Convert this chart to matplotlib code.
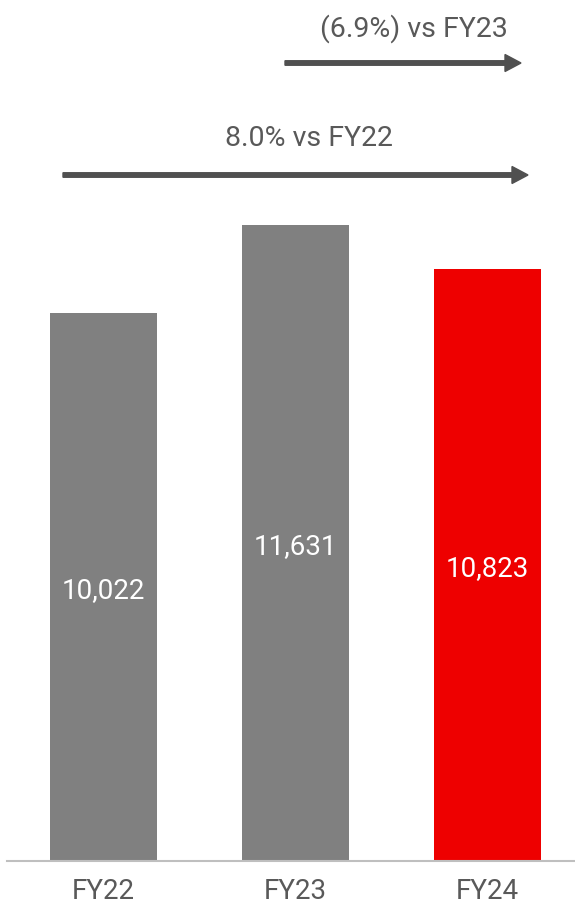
import matplotlib.pyplot as plt
from matplotlib.patches import FancyArrow

years = ['FY22', 'FY23', 'FY24']
values = [10022, 11631, 10823]
colors = ['#808080', '#808080', '#EE0000']
labels = ['10,022', '11,631', '10,823']
notes = ['(6.9%) vs FY23', '8.0% vs FY22']

fonts = ['Roboto', 'DejaVu Sans']

fig = plt.figure(figsize=(5.75, 9.06), dpi=100)
# axes from baseline (861px) to top, x from 7px to 575px
ax = fig.add_axes([7 / 575, 1 - 861 / 906, 568 / 575, 861 / 906])
x = list(range(len(years)))
ax.bar(x, values, width=0.557, color=colors, zorder=2)
ax.set_xlim(-0.503, 2.456)
ax.set_ylim(0, 15750)

for xi, v, lab in zip(x, values, labels):
    ax.text(xi, v / 2, lab, ha='center', va='center_baseline', color='white',
            fontsize=20, family=fonts)

for s in ['top', 'right', 'left']:
    ax.spines[s].set_visible(False)
ax.spines['bottom'].set_color('#BFBFBF')
ax.spines['bottom'].set_linewidth(1.5)
ax.set_yticks([])
ax.set_xticks(x)
ax.set_xticklabels(years, fontsize=20, color='#595959', family=fonts)
ax.tick_params(axis='x', length=0, pad=12)

# growth arrows (figure pixel positions)
W, H = 575, 906
def arrow(x0, x1, y):
    fig.patches.append(FancyArrow(x0 / W, 1 - y / H, (x1 - x0) / W, 0,
                                  width=4.5 / H, head_width=17 / H,
                                  head_length=16 / W, length_includes_head=True,
                                  color='#505050', transform=fig.transFigure))

arrow(285, 521, 63)
arrow(63, 528, 175)
fig.text(414 / W, 1 - 25 / H, notes[0], ha='center', va='center_baseline',
         fontsize=20.5, color='#595959', family=fonts)
fig.text(309 / W, 1 - 135 / H, notes[1], ha='center', va='center_baseline',
         fontsize=20.5, color='#595959', family=fonts)

fig.savefig('out.png', dpi=100)
